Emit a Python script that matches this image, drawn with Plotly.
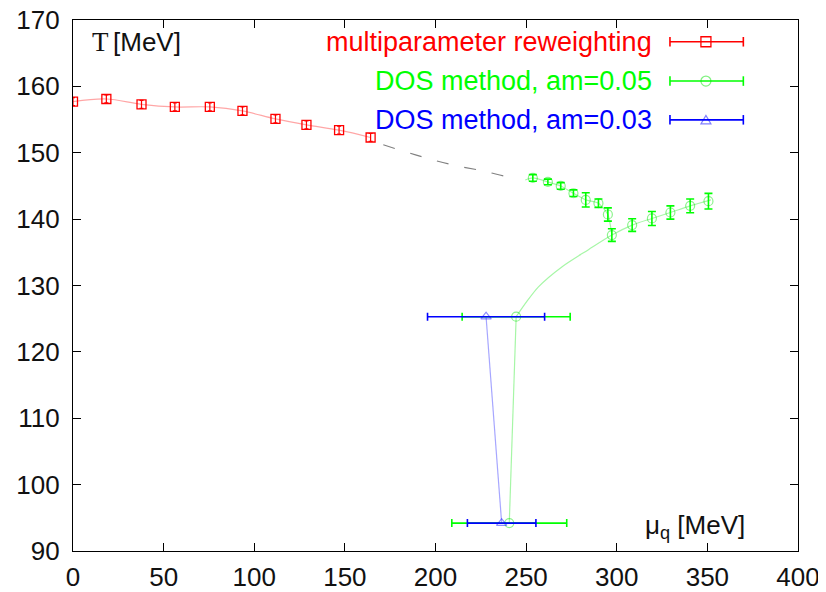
import plotly.graph_objects as go

# ---------------- data ----------------
red_x = [0.0, 18.4, 37.8, 56.2, 75.5, 93.5, 111.7, 128.8, 146.8, 164.2]
red_y = [157.7, 158.1, 157.3, 156.9, 156.9, 156.3, 155.1, 154.2, 153.4, 152.3]
red_err = [0.6, 0.6, 0.6, 0.6, 0.6, 0.6, 0.6, 0.6, 0.6, 0.6]

gray_x = [171.2, 192.4, 208.9, 225.5, 241.1, 245.7]
gray_y = [151.2, 149.4, 148.2, 147.3, 146.3, 146.2]

green_x = [253.7, 262.0, 269.1, 276.1, 282.9, 289.9, 295.1, 297.3, 308.5, 319.4, 329.6, 340.5, 350.6]
green_y = [146.2, 145.6, 145.0, 143.9, 142.9, 142.4, 140.7, 137.6, 139.1, 140.1, 141.0, 142.0, 142.7]
green_err = [0.5, 0.43, 0.5, 0.5, 1.08, 0.63, 1.0, 0.95, 0.95, 1.05, 1.0, 1.03, 1.18]

green_low_x = [244.5, 240.7]
green_low_y = [125.3, 94.2]
green_low_xerr = [29.8, 31.7]

blue_x = [227.9, 236.5]
blue_y = [125.3, 94.2]
blue_xerr = [32.3, 18.9]

# green fitted curves
green_upper_line_x = [249.5, 253.7, 262.0, 269.1, 276.1, 282.9, 289.9, 295.1, 297.3]
green_upper_line_y = [145.9, 146.2, 145.6, 145.0, 143.9, 142.9, 142.4, 140.7, 137.6]
green_lower_line_x = [244.5, 250.4, 256.8, 269.7, 284.4, 297.3, 308.5, 319.4, 329.6, 340.5, 352.0]
green_lower_line_y = [125.3, 127.6, 129.8, 132.8, 135.4, 137.6, 139.1, 140.1, 141.0, 142.0, 142.9]

legend_labels = ["multiparameter reweighting", "DOS method, am=0.05", "DOS method, am=0.03"]
x_ticks = [0, 50, 100, 150, 200, 250, 300, 350, 400]
y_ticks = [90, 100, 110, 120, 130, 140, 150, 160, 170]

RED = "#ff0000"
GREEN = "#00ff00"
BLUE = "#0000ff"
RED_L = "rgba(255,0,0,0.35)"
GREEN_L = "rgba(0,230,0,0.35)"
BLUE_L = "rgba(0,0,255,0.35)"
FONT = "Liberation Sans, Arial, sans-serif"

fig = go.Figure()

# lines
fig.add_trace(go.Scatter(x=red_x, y=red_y, mode="lines", line=dict(color=RED_L, width=1.2, shape="spline"),
                         hoverinfo="skip"))
fig.add_trace(go.Scatter(x=gray_x, y=gray_y, mode="lines",
                         line=dict(color="#808080", width=1.2, dash="12px,16px", shape="spline"),
                         hoverinfo="skip"))
fig.add_trace(go.Scatter(x=green_upper_line_x, y=green_upper_line_y, mode="lines",
                         line=dict(color=GREEN_L, width=1.2, shape="spline", smoothing=0.6), hoverinfo="skip"))
fig.add_trace(go.Scatter(x=green_lower_line_x, y=green_lower_line_y, mode="lines",
                         line=dict(color=GREEN_L, width=1.2, shape="spline", smoothing=0.8), hoverinfo="skip"))
fig.add_trace(go.Scatter(x=green_low_x, y=green_low_y, mode="lines",
                         line=dict(color=GREEN_L, width=1.2), hoverinfo="skip"))
fig.add_trace(go.Scatter(x=blue_x, y=blue_y, mode="lines",
                         line=dict(color=BLUE_L, width=1.2), hoverinfo="skip"))

# points
fig.add_trace(go.Scatter(x=red_x, y=red_y, mode="markers",
                         marker=dict(symbol="square-open", size=9, color=RED, line=dict(width=1.3)),
                         error_y=dict(type="data", array=red_err, color=RED, thickness=1.2, width=2)))
fig.add_trace(go.Scatter(x=green_x, y=green_y, mode="markers",
                         marker=dict(symbol="circle-open", size=9, color="rgba(0,230,0,0.45)", line=dict(width=1.2)),
                         error_y=dict(type="data", array=green_err, color=GREEN, thickness=1.6, width=4)))
fig.add_trace(go.Scatter(x=green_low_x, y=green_low_y, mode="markers",
                         marker=dict(symbol="circle-open", size=9, color="rgba(0,230,0,0.45)", line=dict(width=1.2)),
                         error_x=dict(type="data", array=green_low_xerr, color=GREEN, thickness=1.6, width=4)))
fig.add_trace(go.Scatter(x=blue_x, y=blue_y, mode="markers",
                         marker=dict(symbol="triangle-up-open", size=9, color="rgba(0,0,255,0.45)", line=dict(width=1.2)),
                         error_x=dict(type="data", array=blue_xerr, color=BLUE, thickness=1.6, width=4)))

# legend (text on the left, key on the right, as in the reference)
rows_y = [0.959, 0.885, 0.812]
colors = [RED, GREEN, BLUE]
key_x0, key_x1, key_xm = 0.8234, 0.9246, 0.873
shapes = []
for lab, col, yy in zip(legend_labels, colors, rows_y):
    fig.add_annotation(xref="paper", yref="paper", x=0.801, y=yy, text=lab, showarrow=False,
                       xanchor="right", yanchor="middle", font=dict(family=FONT, size=27, color=col))
    shapes.append(dict(type="line", xref="paper", yref="paper", x0=key_x0, x1=key_x1, y0=yy, y1=yy,
                       line=dict(color=col, width=1.6)))
    for xx in (key_x0, key_x1):
        shapes.append(dict(type="line", xref="paper", yref="paper", x0=xx, x1=xx, y0=yy - 0.009, y1=yy + 0.009,
                           line=dict(color=col, width=1.6)))
# key markers
dx = 5 / 725
dy = 5 / 531
shapes.append(dict(type="rect", xref="paper", yref="paper", x0=key_xm - dx, x1=key_xm + dx,
                   y0=rows_y[0] - dy, y1=rows_y[0] + dy, line=dict(color=RED, width=1.3)))
shapes.append(dict(type="circle", xref="paper", yref="paper", x0=key_xm - dx, x1=key_xm + dx,
                   y0=rows_y[1] - dy, y1=rows_y[1] + dy, line=dict(color="rgba(0,230,0,0.5)", width=1.2)))
shapes.append(dict(type="path", xref="paper", yref="paper",
                   path=f"M {key_xm - dx} {rows_y[2] - dy * 0.8} L {key_xm + dx} {rows_y[2] - dy * 0.8} L {key_xm} {rows_y[2] + dy * 0.9} Z",
                   line=dict(color="rgba(0,0,255,0.5)", width=1.2)))

# axis labels
fig.add_annotation(xref="paper", yref="paper", x=0.024, y=0.959, text="T", showarrow=False,
                   xanchor="left", yanchor="middle", font=dict(family="Liberation Serif, Times New Roman, serif", size=27, color="#111"))
fig.add_annotation(xref="paper", yref="paper", x=0.052, y=0.959, text="[MeV]", showarrow=False,
                   xanchor="left", yanchor="middle", font=dict(family=FONT, size=26, color="#111"))
fig.add_annotation(xref="paper", yref="paper", x=0.93, y=0.047, text="μ<sub>q</sub> [MeV]", showarrow=False,
                   xanchor="right", yanchor="middle", font=dict(family=FONT, size=26, color="#111"))

# the page body has an 8px margin, so the figure is 8px smaller than the window
fig.update_layout(
    width=818, height=584,
    margin=dict(l=65, r=28, t=12, b=41, autoexpand=False),
    paper_bgcolor="white", plot_bgcolor="white",
    showlegend=False,
    shapes=shapes,
    font=dict(family=FONT, size=26, color="#111"),
)
fig.update_xaxes(range=[0, 400], tickvals=x_ticks, ticks="inside", ticklen=8, tickcolor="#000",
                 showline=True, linecolor="#000", linewidth=1.2, mirror="ticks", showgrid=False, zeroline=False,
                 tickfont=dict(size=26), automargin=False, ticklabelstandoff=3, ticklabeloverflow="allow")
fig.update_yaxes(range=[90, 170], tickvals=y_ticks, ticks="inside", ticklen=8, tickcolor="#000",
                 showline=True, linecolor="#000", linewidth=1.2, mirror="ticks", showgrid=False, zeroline=False,
                 tickfont=dict(size=26), automargin=False, ticklabelstandoff=7, ticklabeloverflow="allow")

fig.write_html("out.html")
